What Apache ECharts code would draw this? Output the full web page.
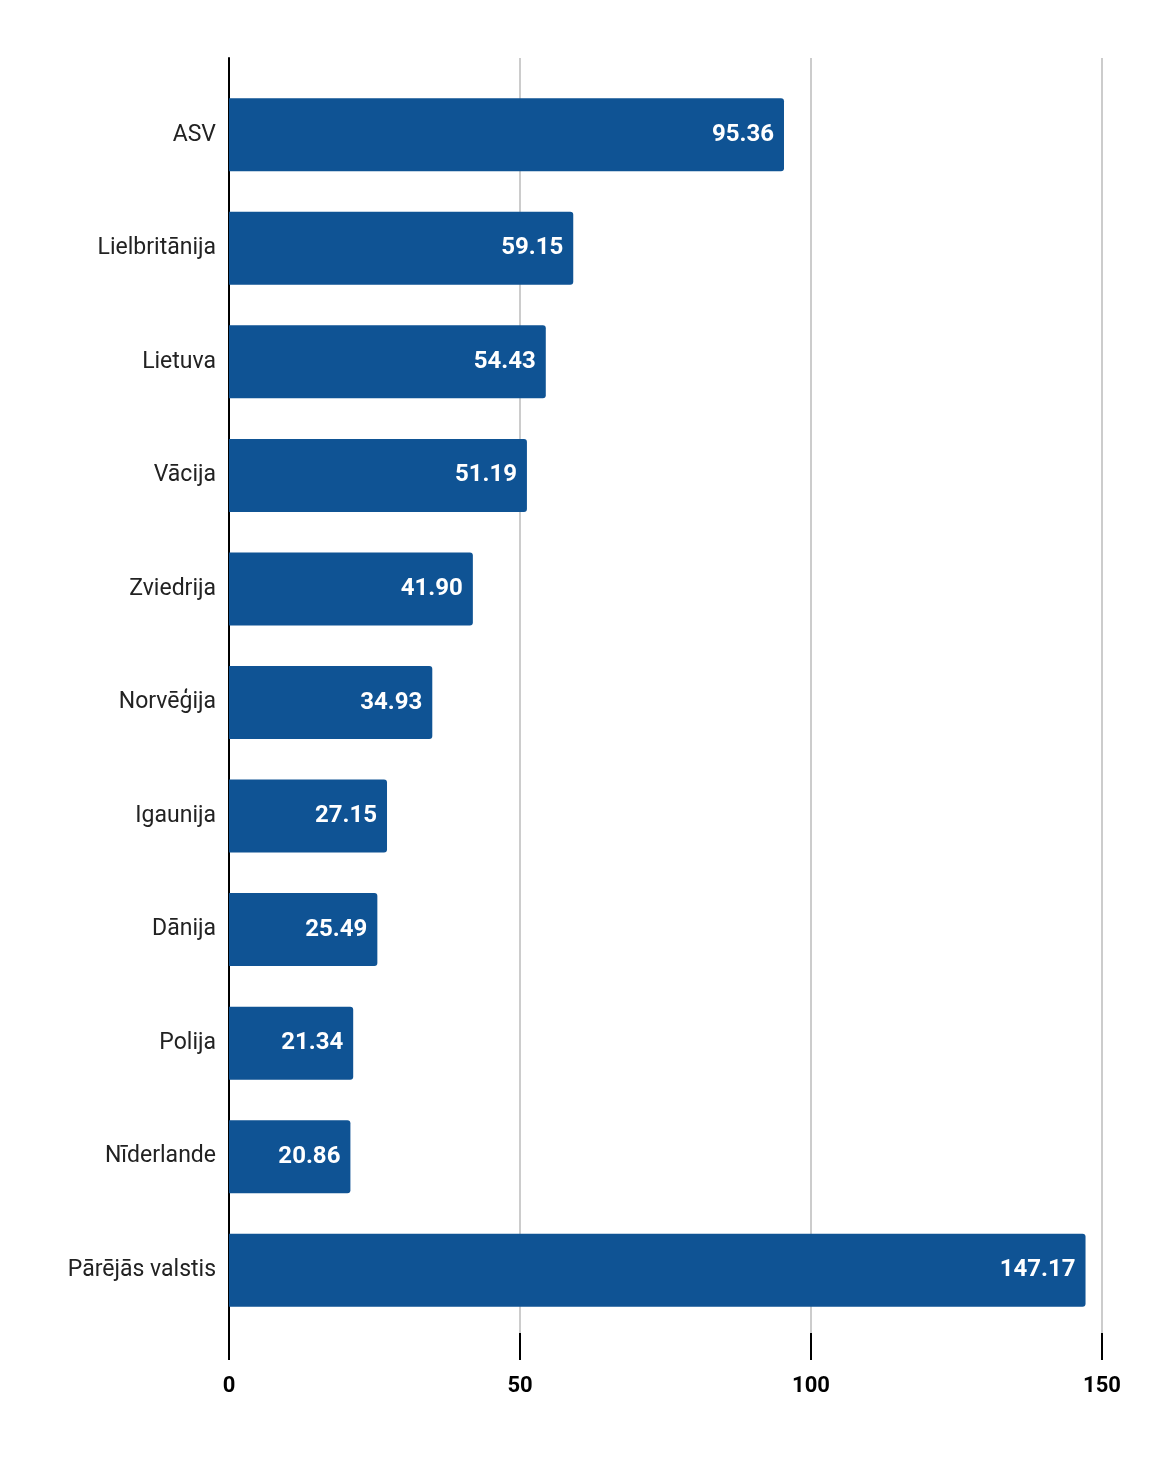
<!DOCTYPE html>
<html><head><meta charset="utf-8">
<script src="https://cdn.jsdelivr.net/npm/echarts@6/dist/echarts.min.js"></script>
<style>html,body{margin:0;padding:0;background:#fff}#c{width:1160px;height:1458px}</style>
</head><body><div id="c"></div>
<script>
const categories = ["ASV","Lielbritānija","Lietuva","Vācija","Zviedrija","Norvēģija","Igaunija","Dānija","Polija","Nīderlande","Pārējās valstis"];
const values = [95.36,59.15,54.43,51.19,41.90,34.93,27.15,25.49,21.34,20.86,147.17];
const xTicks = {min:0, max:150, interval:50};
const font = 'Roboto';
const chart = echarts.init(document.getElementById('c'), null, {renderer:'canvas'});
chart.setOption({
  backgroundColor:'#fff',
  animation:false,
  grid:[
    {left:229, right:58, top:58, bottom:125},
    {left:229, right:58, top:78, bottom:131}
  ],
  xAxis:[
    {gridIndex:0, type:'value', min:xTicks.min, max:xTicks.max, interval:xTicks.interval,
     axisLine:{show:false},
     axisTick:{show:true, length:27, lineStyle:{color:'#000', width:2}},
     splitLine:{show:true, lineStyle:{color:'#cccccc', width:2}},
     axisLabel:{color:'#000', fontFamily:font, fontSize:22, fontWeight:'bold', margin:42}},
    {gridIndex:1, type:'value', min:xTicks.min, max:xTicks.max, interval:xTicks.interval, show:false}
  ],
  yAxis:[
    {gridIndex:0, type:'category', data:categories, inverse:true,
     axisLine:{show:true, lineStyle:{color:'#000', width:2}}, axisTick:{show:false}, axisLabel:{show:false}},
    {gridIndex:1, type:'category', data:categories, inverse:true,
     axisLine:{show:false}, axisTick:{show:false},
     axisLabel:{color:'#222', fontFamily:font, fontSize:23, margin:13, padding:[4,0,0,0]}}
  ],
  series:[{
    type:'bar', xAxisIndex:1, yAxisIndex:1, data:values, barWidth:73,
    itemStyle:{color:'#0f5394', borderRadius:[0,3,3,0]},
    label:{show:true, position:'insideRight', distance:10, color:'#fff', fontFamily:font, fontSize:24, fontWeight:'bold',
      padding:[3,0,0,0], formatter:p=>p.value.toFixed(2)}
  }]
});
</script></body></html>
